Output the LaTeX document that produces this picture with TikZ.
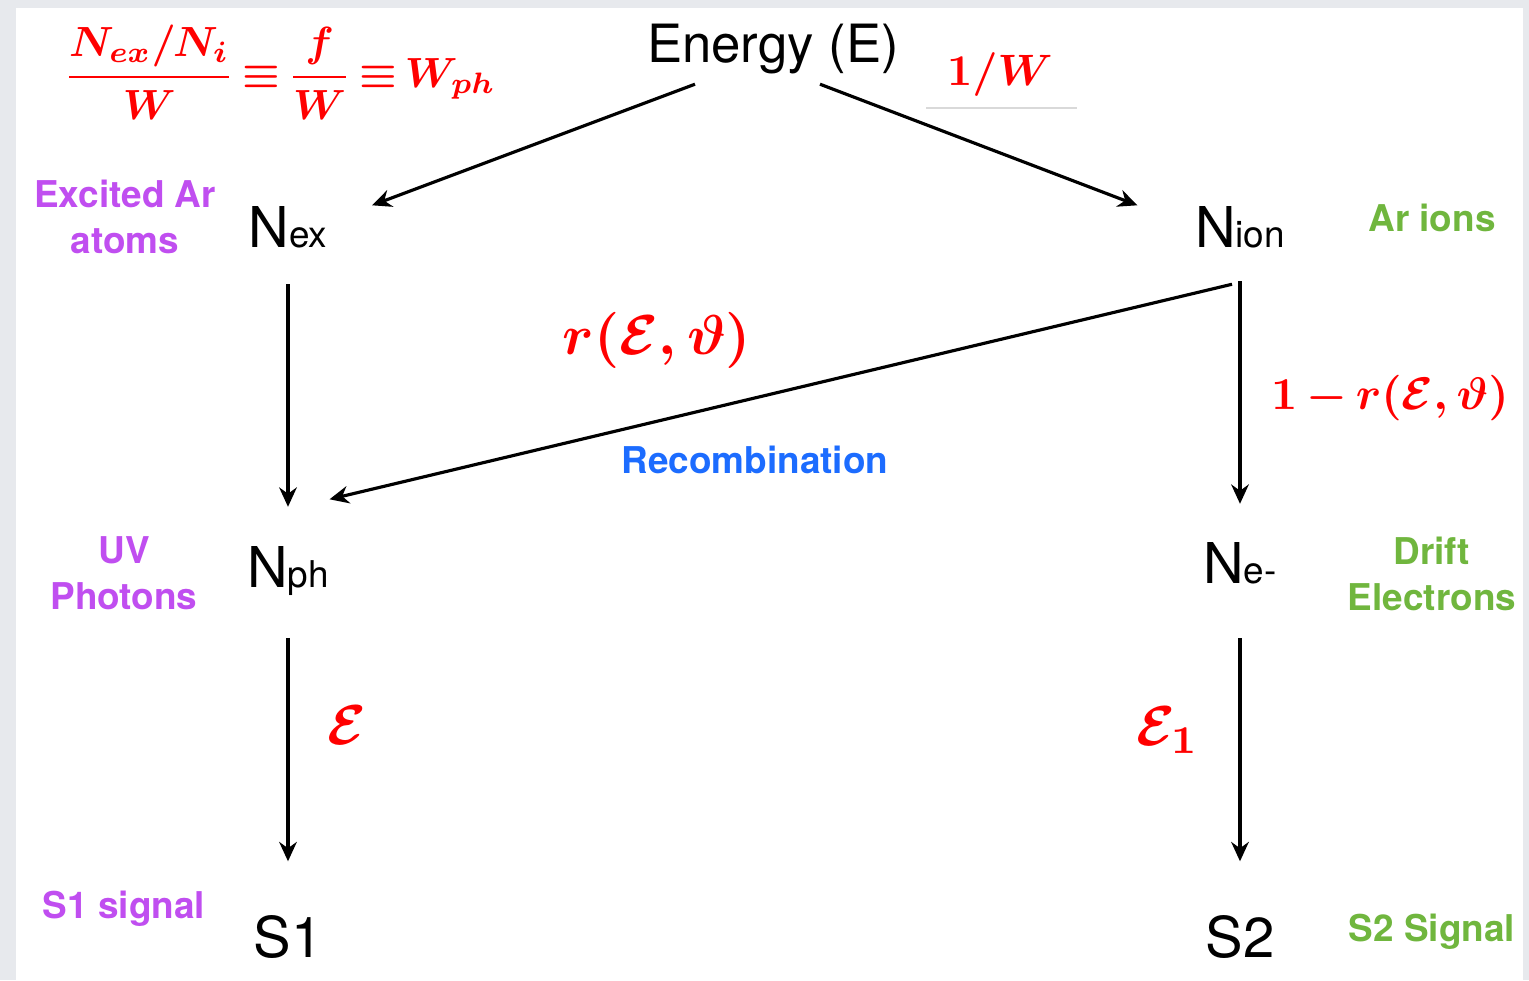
\documentclass[tikz,border=0pt]{standalone}
\usepackage{amsmath}
\usepackage{graphicx}
\usepackage[no-math]{fontspec}
\setmainfont{TeX Gyre Heros}
\usetikzlibrary{arrows.meta}

\definecolor{exccol}{RGB}{192,78,240}
\definecolor{ioncol}{RGB}{112,182,62}
\definecolor{reccol}{RGB}{28,108,255}
\definecolor{framecol}{RGB}{231,233,237}

\newcommand{\subtext}[1]{{\fontsize{10.5}{12}\selectfont #1}}
\newcommand{\yield}[2]{\scalebox{#1}{\thickmuskip=3mu\medmuskip=3mu$\displaystyle #2$}}

\begin{document}
\begin{tikzpicture}[
    quantity/.style={inner sep=0pt,anchor=base,font=\fontsize{16}{19}\selectfont},
    excited/.style={align=center,font=\fontsize{10.5}{13}\selectfont\bfseries,text=exccol},
    ionic/.style={align=center,font=\fontsize{10.5}{13}\selectfont\bfseries,text=ioncol},
    rate/.style={text=red,inner sep=0pt,font=\boldmath},
    flow/.style={draw=black,line width=0.9pt,-{Stealth[length=5.5pt,width=5pt]}}
]
    % frame
    \fill[framecol] (0,0) rectangle (15.29,9.80);
    \fill[white] (0.16,0) rectangle (15.23,9.72);

    % quantities
    \node[quantity,font=\fontsize{15}{18}\selectfont] (energy) at (7.73,9.18) {Energy (E)};
    \node[quantity] (nex) at (2.88,7.33) {N\subtext{ex}};
    \node[quantity] (nion) at (12.40,7.33) {N\subtext{ion}};
    \node[quantity] (nph) at (2.88,3.93) {N\subtext{ph}};
    \node[quantity] (ne) at (12.40,3.97) {N\subtext{e-}};
    \node[quantity] (s1) at (2.88,0.23) {S1};
    \node[quantity] (s2) at (12.40,0.23) {S2};

    % descriptions
    \node[excited] (exclabel) at (1.25,7.63) {Excited Ar\\atoms};
    \node[ionic] (ionlabel) at (14.32,7.62) {Ar ions};
    \node[excited] (phlabel) at (1.24,4.07) {UV\\Photons};
    \node[ionic] (elabel) at (14.32,4.06) {Drift\\Electrons};
    \node[excited] (s1label) at (1.24,0.71) {S1 signal};
    \node[ionic] (s2label) at (14.32,0.48) {S2 Signal};
    \node[font=\fontsize{10.5}{13}\selectfont\bfseries,text=reccol] (recomb) at (7.55,5.20) {Recombination};

    % yields
    \node[rate] (wph) at (2.80,9.08)
        {\yield{1.2}{\frac{N_{ex}/N_i}{W}\equiv\frac{f}{W}\equiv W_{ph}}};
    \node[rate] (winv) at (10.00,9.05) {\yield{1.25}{1/W}};
    \draw[black!15,line width=0.4pt] (9.26,8.72) -- (10.77,8.72);
    \node[rate] (rfrac) at (6.57,6.40) {\yield{1.6}{r(\mathcal{E},\vartheta)}};
    \node[rate] (rrest) at (13.90,5.82) {\yield{1.3}{1-r(\mathcal{E},\vartheta)}};
    \node[rate] (eff1) at (3.47,2.55) {\yield{1.6}{\mathcal{E}}};
    \node[rate] (eff2) at (11.68,2.50) {\yield{1.6}{\mathcal{E}_1}};

    % flows
    \draw[flow] ([xshift=-7.8mm,yshift=-1mm]energy.south) -- ([xshift=4.4mm]nex.north east);
    \draw[flow] ([xshift=4.7mm,yshift=-1mm]energy.south) -- ([xshift=-5.7mm]nion.north west);
    \draw[flow] ([yshift=-3.6mm]nex.south) -- ([yshift=3.85mm]nph.north);
    \draw[flow] ([yshift=-3.3mm]nion.south) -- ([yshift=3.75mm]ne.north);
    \draw[flow] ([xshift=-0.8mm,yshift=-3.6mm]nion.south) -- ([yshift=4.6mm]nph.north east);
    \draw[flow] ([yshift=-4.2mm]nph.south) -- ([yshift=5.3mm]s1.north);
    \draw[flow] ([yshift=-5.4mm]ne.south) -- ([yshift=5.3mm]s2.north);
\end{tikzpicture}
\end{document}
